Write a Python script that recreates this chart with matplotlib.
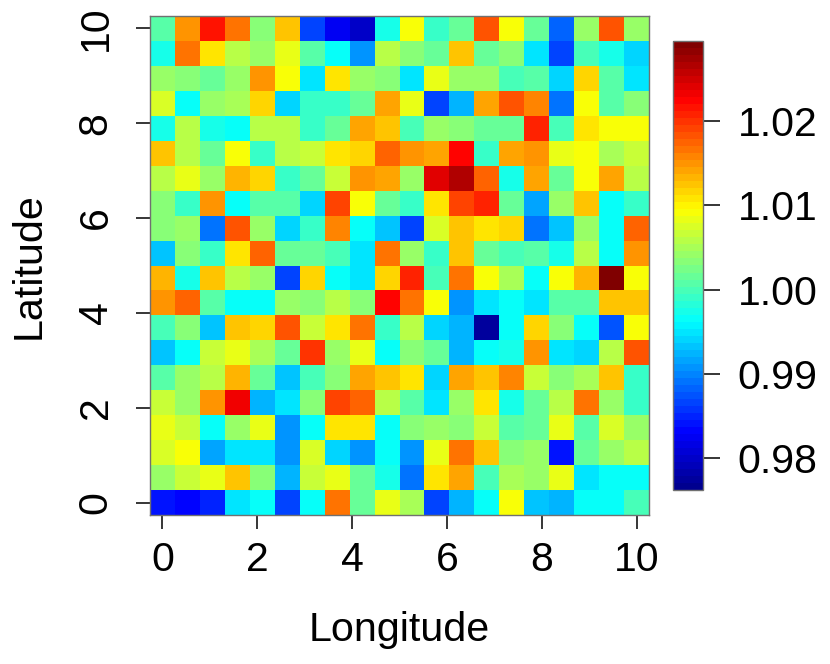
import numpy as np
import matplotlib
matplotlib.use("Agg")
import matplotlib.pyplot as plt
from matplotlib.colors import LinearSegmentedColormap, Normalize
from matplotlib.cm import ScalarMappable

plt.rcParams["font.family"] = ["Liberation Sans", "DejaVu Sans"]

lon = np.linspace(0, 10, 20)
lat = np.linspace(10, 0, 20)

# rows run from latitude 10 (top) down to latitude 0
values = np.array([
    [1.0006, 1.0153, 1.0220, 1.0162, 1.0029, 1.0125, 0.9862, 0.9825, 0.9800, 0.9978, 1.0095, 0.9989, 1.0012, 1.0186, 1.0087, 1.0012, 0.9885, 1.0045, 1.0186, 1.0037],
    [0.9978, 1.0162, 1.0105, 1.0054, 1.0045, 1.0083, 1.0006, 0.9962, 0.9910, 1.0054, 1.0029, 1.0012, 1.0128, 1.0012, 1.0029, 0.9950, 0.9862, 0.9998, 0.9978, 0.9937],
    [1.0045, 1.0029, 1.0012, 1.0037, 1.0153, 1.0095, 0.9950, 1.0105, 1.0037, 1.0029, 0.9950, 1.0079, 1.0037, 1.0045, 0.9998, 1.0006, 0.9937, 1.0120, 1.0006, 0.9946],
    [1.0071, 0.9962, 1.0037, 1.0050, 1.0115, 0.9942, 0.9989, 0.9989, 1.0020, 1.0145, 1.0079, 0.9862, 0.9922, 1.0145, 1.0186, 1.0157, 0.9895, 1.0095, 1.0006, 1.0029],
    [0.9978, 1.0058, 0.9978, 0.9970, 1.0058, 1.0054, 0.9989, 1.0012, 1.0145, 1.0125, 0.9998, 1.0045, 1.0029, 1.0012, 1.0012, 1.0211, 0.9998, 1.0111, 1.0095, 1.0095],
    [1.0125, 1.0058, 1.0020, 1.0095, 0.9989, 1.0054, 1.0067, 1.0111, 1.0115, 1.0178, 1.0153, 1.0139, 1.0228, 0.9989, 1.0139, 1.0153, 1.0079, 1.0095, 1.0050, 1.0067],
    [1.0058, 1.0079, 1.0037, 1.0132, 1.0115, 0.9989, 1.0012, 1.0067, 1.0153, 1.0139, 1.0037, 1.0243, 1.0270, 1.0174, 0.9978, 1.0145, 1.0020, 1.0095, 1.0139, 1.0054],
    [1.0029, 0.9989, 1.0153, 0.9970, 1.0006, 1.0006, 0.9942, 1.0195, 1.0095, 1.0012, 0.9989, 1.0105, 1.0195, 1.0211, 1.0012, 0.9918, 1.0037, 1.0125, 0.9962, 0.9989],
    [1.0029, 1.0045, 0.9895, 1.0186, 1.0037, 0.9942, 0.9989, 1.0157, 0.9970, 0.9929, 0.9862, 1.0071, 1.0128, 1.0105, 1.0115, 0.9895, 0.9929, 1.0045, 0.9962, 1.0178],
    [0.9933, 1.0029, 0.9989, 1.0111, 1.0178, 1.0012, 1.0012, 0.9998, 0.9950, 1.0162, 1.0037, 0.9989, 1.0128, 1.0020, 0.9998, 1.0006, 0.9978, 1.0054, 0.9962, 1.0153],
    [1.0135, 0.9978, 1.0125, 1.0054, 1.0045, 0.9862, 1.0115, 0.9970, 0.9950, 1.0115, 1.0211, 0.9998, 1.0170, 1.0095, 1.0050, 0.9970, 1.0095, 1.0132, 1.0290, 1.0087],
    [1.0153, 1.0178, 1.0006, 0.9962, 0.9970, 1.0037, 1.0029, 1.0054, 1.0029, 1.0228, 1.0170, 1.0087, 0.9905, 0.9946, 0.9962, 0.9946, 1.0006, 1.0006, 1.0128, 1.0125],
    [0.9998, 1.0029, 0.9929, 1.0128, 1.0115, 1.0186, 1.0067, 1.0105, 1.0162, 0.9989, 1.0058, 0.9937, 0.9922, 0.9775, 0.9970, 1.0115, 1.0029, 0.9962, 0.9878, 1.0095],
    [0.9929, 0.9970, 1.0067, 1.0083, 1.0050, 1.0020, 1.0200, 1.0037, 1.0083, 0.9962, 1.0029, 1.0020, 0.9925, 0.9962, 0.9978, 1.0153, 0.9950, 0.9937, 1.0054, 1.0186],
    [1.0006, 1.0045, 1.0054, 1.0135, 1.0012, 0.9933, 0.9998, 1.0029, 1.0145, 1.0125, 1.0105, 0.9942, 1.0145, 1.0125, 1.0157, 1.0067, 1.0029, 1.0050, 1.0125, 0.9989],
    [1.0067, 1.0045, 1.0153, 1.0235, 0.9925, 0.9950, 1.0029, 1.0195, 1.0174, 1.0058, 1.0006, 0.9950, 1.0045, 1.0105, 0.9978, 1.0020, 1.0054, 1.0162, 1.0045, 0.9989],
    [1.0079, 1.0062, 0.9970, 1.0045, 1.0079, 0.9910, 0.9962, 1.0105, 1.0105, 0.9962, 1.0029, 1.0045, 1.0029, 1.0067, 1.0006, 1.0012, 1.0079, 1.0006, 1.0071, 1.0045],
    [1.0071, 1.0087, 0.9918, 0.9946, 0.9946, 0.9910, 1.0071, 0.9942, 0.9905, 0.9962, 0.9910, 1.0083, 1.0162, 1.0125, 1.0029, 1.0045, 0.9845, 1.0012, 1.0045, 1.0054],
    [1.0037, 1.0062, 1.0079, 1.0125, 1.0029, 0.9922, 1.0062, 1.0079, 1.0020, 0.9978, 0.9895, 1.0105, 1.0145, 0.9998, 1.0050, 1.0045, 1.0079, 0.9950, 0.9970, 0.9970],
    [0.9838, 0.9829, 0.9853, 0.9946, 0.9962, 0.9870, 0.9962, 1.0162, 1.0012, 1.0079, 1.0050, 0.9870, 0.9922, 0.9970, 1.0087, 0.9933, 0.9922, 0.9962, 0.9970, 0.9998],
])

vmin = 0.9762
vmax = 1.0295
ticks = [0, 2, 4, 6, 8, 10]
cbar_ticks = [0.98, 0.99, 1.00, 1.01, 1.02]

cmap = LinearSegmentedColormap.from_list(
    "tim",
    [(0, "#00008F"), (0.125, "#0000FF"), (0.375, "#00FFFF"),
     (0.625, "#FFFF00"), (0.875, "#FF0000"), (1, "#800000")],
    N=64,
)
norm = Normalize(vmin, vmax)

W, H = 830, 664
fig = plt.figure(figsize=(W / 100, H / 100), dpi=100)
ax = fig.add_axes([150 / W, 1 - 515 / H, 499 / W, 499 / H])
ax.pcolormesh(lon, lat, values, cmap=cmap, norm=norm, shading="nearest")
ax.set_xticks(ticks)
ax.set_yticks(ticks)
ax.tick_params(length=10, width=1.1, labelsize=29.5, pad=9)
ax.tick_params(axis="y", pad=15.5)
for label in ax.get_yticklabels():
    label.set_rotation(90)
    label.set_va("center")
ax.set_xlabel("Longitude", fontsize=29.7, labelpad=22.5)
ax.set_ylabel("Latitude", fontsize=29.7, labelpad=21)
for spine in ax.spines.values():
    spine.set_color("#707070")
    spine.set_linewidth(1.0)

cax = fig.add_axes([673 / W, 1 - 490 / H, 30 / W, 449 / H])
cbar = fig.colorbar(ScalarMappable(norm=norm, cmap=cmap), cax=cax)
cbar.set_ticks(cbar_ticks, labels=[f"{t:.2f}" for t in cbar_ticks])
cbar.ax.tick_params(length=12, width=1.1, labelsize=29.5, pad=13)
cbar.outline.set_edgecolor("#707070")
cbar.outline.set_linewidth(1.0)

fig.savefig("out.png", dpi=100)
